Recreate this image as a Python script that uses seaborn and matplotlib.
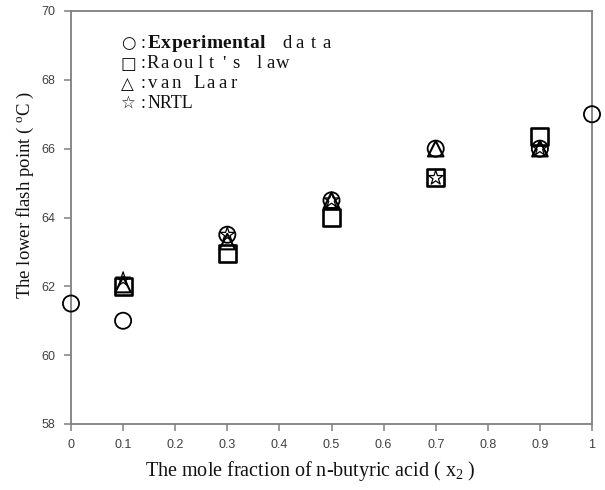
import matplotlib
matplotlib.use("Agg")
import matplotlib.pyplot as plt
import seaborn as sns
from matplotlib.font_manager import FontProperties

# mole fraction of n-butyric acid
exp_x = [0.0, 0.1, 0.3, 0.5, 0.7, 0.9, 1.0]
exp_flash = [61.5, 61.0, 63.5, 64.5, 66.0, 66.0, 67.0]

model_x = [0.1, 0.3, 0.5, 0.7, 0.9]
raoult_flash = [62.0, 62.95, 64.0, 65.15, 66.35]
vanlaar_flash = [62.05, 63.3, 64.5, 66.0, 66.0]
nrtl_flash = [62.2, 63.5, 64.5, 65.15, 66.0]

x_ticks = [0, 0.1, 0.2, 0.3, 0.4, 0.5, 0.6, 0.7, 0.8, 0.9, 1.0]
x_tick_labels = ["0", "0.1", "0.2", "0.3", "0.4", "0.5", "0.6", "0.7", "0.8", "0.9", "1"]
y_ticks = [58, 60, 62, 64, 66, 68, 70]

W, H = 605, 490
AX_L, AX_R, AX_T, AX_B = 71, 592, 11, 424
SPINE = "#7f7f7f"
INK = "#111111"

sns.set_theme(style="ticks")
plt.rcParams["font.family"] = ["Liberation Sans", "DejaVu Sans"]
plt.rcParams["mathtext.default"] = "regular"

fig = plt.figure(figsize=(W / 100, H / 100), dpi=100)
ax = fig.add_axes([AX_L / W, 1 - AX_B / H, (AX_R - AX_L) / W, (AX_B - AX_T) / H])

sns.scatterplot(x=model_x, y=raoult_flash, marker="s", s=150, facecolor="none",
                edgecolor="black", linewidth=1.9, ax=ax, zorder=3, clip_on=False)
sns.scatterplot(x=model_x, y=vanlaar_flash, marker="^", s=125, facecolor="none",
                edgecolor="black", linewidth=1.5, ax=ax, zorder=4, clip_on=False)
sns.scatterplot(x=exp_x, y=exp_flash, marker="o", s=135, facecolor="none",
                edgecolor="black", linewidth=1.3, ax=ax, zorder=5, clip_on=False)
sns.scatterplot(x=model_x, y=nrtl_flash, marker="*", s=120, facecolor="none",
                edgecolor="black", linewidth=0.9, ax=ax, zorder=6, clip_on=False)

ax.set_xlim(0, 1)
ax.set_ylim(58, 70)
ax.set_xticks(x_ticks)
ax.set_xticklabels(x_tick_labels)
ax.set_yticks(y_ticks)
ax.tick_params(axis="both", direction="out", length=5, width=1.1, color=SPINE,
               labelcolor="#404040", labelsize=9, pad=6)
for side in ["left", "right", "top", "bottom"]:
    ax.spines[side].set_visible(True)
    ax.spines[side].set_color(SPINE)
    ax.spines[side].set_linewidth(1.3)

ax.set_xlabel("The mole fraction of n-butyric acid ( x$_2$ )", family="Liberation Serif",
              fontsize=14.5, color=INK)
ax.set_ylabel("The lower flash point ( $^{o}$C )", family="Liberation Serif",
              fontsize=13.5, color=INK)
ax.xaxis.set_label_coords(0.46, -0.085)
ax.yaxis.set_label_coords(-0.068, 0.554)


def px(xp, yp):
    return (xp - AX_L) / (AX_R - AX_L), (AX_B - yp) / (AX_B - AX_T)


def put(xp, yp, s, **kw):
    return ax.text(*px(xp, yp), s, transform=ax.transAxes, va="center", color=INK, **kw)


def fixed_pitch(x0, yp, s, pitch, size):
    # wide fixed-pitch lettering like the original legend font
    for i, ch in enumerate(s):
        if ch != " ":
            put(x0 + (i + 0.5) * pitch, yp, ch, ha="center",
                family=["Liberation Serif"], fontsize=size)


def tracked(x0, yp, s, extra, size, weight="normal"):
    renderer = fig.canvas.get_renderer()
    prop = FontProperties(family="Liberation Serif", size=size, weight=weight)
    x = x0
    for ch in s:
        put(x, yp, ch, ha="left", fontproperties=prop)
        w, _, _ = renderer.get_text_width_height_descent(ch, prop, ismath=False)
        x += w + extra


legend_symbols = ["\u25cb", "\u25a1", "\u25b3", "\u2606"]
legend_rows = [43, 64, 84, 103]
for sym, yrow in zip(legend_symbols, legend_rows):
    put(121, yrow, sym, ha="left", family=["DejaVu Sans"], fontsize=12)
    put(141, yrow, ":", ha="left", family=["Liberation Serif"], fontsize=13)

tracked(148, legend_rows[0], "Experimental", 0.3, 14, weight="bold")
fixed_pitch(280, legend_rows[0], "data", 13.2, 13.5)
fixed_pitch(147, legend_rows[1], "Raoult's law", 11.8, 13.5)
fixed_pitch(147, legend_rows[2], "van Laar", 11.6, 13.5)
put(148, legend_rows[3], "NRTL", ha="left", family=["Liberation Serif"], fontsize=13)

fig.savefig("out.png", dpi=100)
